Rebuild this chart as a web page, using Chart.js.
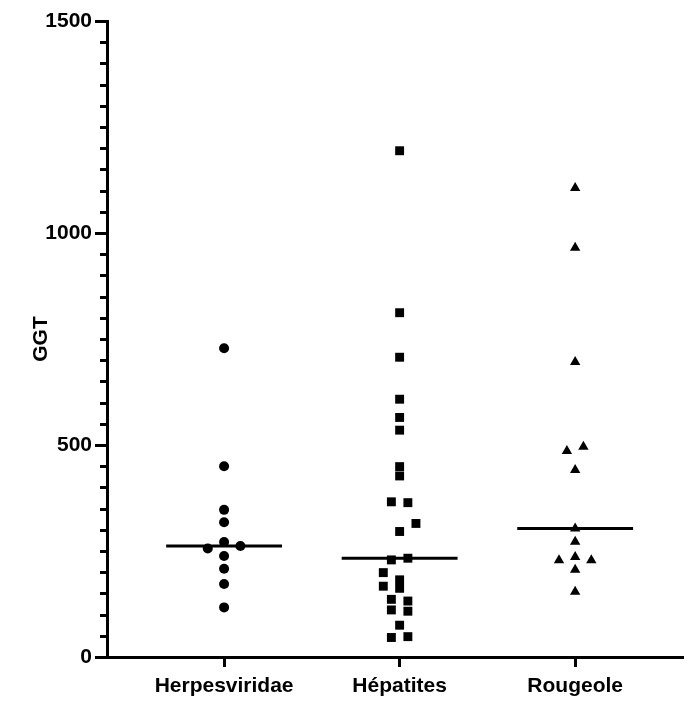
<!DOCTYPE html>
<html>
<head>
<meta charset="utf-8">
<script src="https://cdn.jsdelivr.net/npm/chart.js@4/dist/chart.umd.min.js"></script>
<style>
  html, body { margin: 0; padding: 0; background: #fff; overflow: hidden; }
  #wrap { position: relative; width: 684px; height: 704px; }
</style>
</head>
<body>
<div id="wrap"><canvas id="ggtChart"></canvas></div>
<script>
// groups on the x axis
const groups = ['Herpesviridae', 'Hépatites', 'Rougeole'];

// GGT values, one array per group
const herpesValues = [728, 450, 347, 318, 271, 256, 262, 238, 208, 172, 117];
const hepatitesValues = [1194, 812, 707, 608, 565, 535, 449, 427, 366, 364, 315, 296,
  229, 233, 199, 182, 167, 162, 136, 132, 111, 108, 75, 46, 48];
const rougeoleValues = [1106, 965, 696, 486, 496, 441, 303, 272, 236, 228, 228, 206, 154];

// sideways spread of the dots inside each column (in column units)
const herpesSpread = [0, 0, 0, 0, 0, -0.093, 0.093, 0, 0, 0, 0];
const hepatitesSpread = [0, 0, 0, 0, 0, 0, 0, 0, -0.047, 0.047, 0.093, 0,
  -0.047, 0.047, -0.093, 0, -0.093, 0, -0.047, 0.047, -0.047, 0.047, 0, -0.047, 0.047];
const rougeoleSpread = [0, 0, 0, -0.047, 0.047, 0, 0, 0, 0, -0.092, 0.092, 0, 0];

// y axis ticks
const yMax = 1500;
const yStep = 500;
const yMinorStep = 50;

Chart.defaults.font.family = "'Liberation Sans', Arial, sans-serif";
Chart.defaults.color = '#000';

function toPoints(values, spread, column) {
  return values.map((v, i) => ({ x: column + spread[i], y: v }));
}

function median(values) {
  const s = values.slice().sort((a, b) => a - b);
  const m = Math.floor(s.length / 2);
  return s.length % 2 ? s[m] : (s[m - 1] + s[m]) / 2;
}

function medianLine(values, column) {
  const m = median(values);
  return [{ x: column - 0.33, y: m }, { x: column + 0.33, y: m }];
}

const pointSets = [
  { values: herpesValues, spread: herpesSpread, style: 'circle', radius: 5 },
  { values: hepatitesValues, spread: hepatitesSpread, style: 'rect', radius: 6.3 },
  { values: rougeoleValues, spread: rougeoleSpread, style: 'triangle', radius: 6 }
];

const datasets = [];
pointSets.forEach((p, i) => {
  datasets.push({
    type: 'scatter',
    label: groups[i],
    data: toPoints(p.values, p.spread, i + 1),
    pointStyle: p.style,
    pointRadius: p.radius,
    pointBackgroundColor: '#000',
    pointBorderWidth: 0,
    order: 1
  });
  datasets.push({
    type: 'line',
    label: groups[i] + ' median',
    data: medianLine(p.values, i + 1),
    borderColor: '#000',
    borderWidth: 3,
    pointRadius: 0,
    fill: false,
    order: 2
  });
});

// short ticks between the labelled ones on the y axis
const minorTicks = {
  id: 'minorTicks',
  afterDraw(chart) {
    const y = chart.scales.y;
    const ctx = chart.ctx;
    const x0 = chart.chartArea.left;
    ctx.save();
    ctx.strokeStyle = '#000';
    ctx.lineWidth = 3;
    for (let v = yMinorStep; v < yMax; v += yMinorStep) {
      if (v % yStep === 0) continue;
      const py = Math.round(y.getPixelForValue(v)) + 0.5;
      ctx.beginPath();
      ctx.moveTo(x0 - 7, py);
      ctx.lineTo(x0, py);
      ctx.stroke();
    }
    ctx.restore();
  }
};

const ctx = document.getElementById('ggtChart').getContext('2d');
new Chart(ctx, {
  data: { datasets: datasets },
  plugins: [minorTicks],
  options: {
    responsive: true,
    maintainAspectRatio: false,
    animation: false,
    layout: { autoPadding: false, padding: { top: 21, left: 0, right: 0, bottom: 0 } },
    plugins: {
      legend: { display: false },
      tooltip: { enabled: false }
    },
    scales: {
      x: {
        type: 'linear',
        min: 0.333,
        max: 3.62,
        afterBuildTicks: (scale) => {
          scale.ticks = groups.map((g, i) => ({ value: i + 1 }));
        },
        afterFit: (scale) => {
          scale.height = 47;
        },
        ticks: {
          callback: (v) => groups[v - 1],
          font: { size: 21, weight: 'bold' },
          color: '#000',
          padding: 7,
          maxRotation: 0,
          autoSkip: false
        },
        grid: {
          drawOnChartArea: false,
          tickLength: 10,
          tickWidth: 3,
          tickColor: '#000'
        },
        border: { color: '#000', width: 3 }
      },
      y: {
        min: 0,
        max: yMax,
        afterFit: (scale) => { scale.width = 107; },
        ticks: {
          stepSize: yStep,
          callback: (v) => String(v),
          font: { size: 21, weight: 'bold' },
          color: '#000',
          padding: 3
        },
        grid: {
          drawOnChartArea: false,
          tickLength: 12,
          tickWidth: 3,
          tickColor: '#000'
        },
        border: { color: '#000', width: 3 },
        title: {
          display: true,
          text: 'GGT',
          font: { size: 21, weight: 'bold' },
          color: '#000',
          padding: { top: 29, bottom: 0 }
        }
      }
    }
  }
});
</script>
</body>
</html>
